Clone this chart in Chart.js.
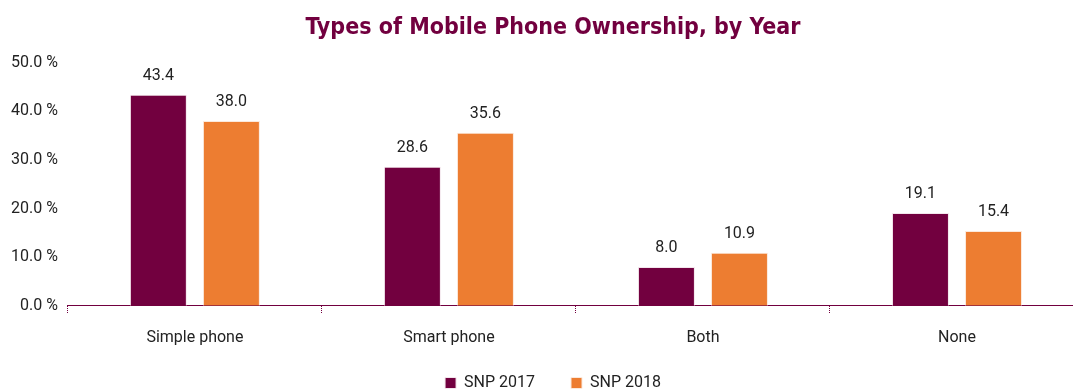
<!DOCTYPE html>
<html>
<head>
<meta charset="utf-8">
<script src="https://cdn.jsdelivr.net/npm/chart.js@4"></script>
<style>
  html, body { margin: 0; padding: 0; background: #fff; overflow: hidden; }
  #wrap { width: 1110px; height: 390px; position: relative; }
</style>
</head>
<body>
<div id="wrap"><canvas id="chart"></canvas></div>
<script>
// DATA
const categories = ['Simple phone', 'Smart phone', 'Both', 'None'];
const snp2017 = [43.4, 28.6, 8.0, 19.1];
const snp2018 = [38.0, 35.6, 10.9, 15.4];
const seriesNames = ['SNP 2017', 'SNP 2018'];
const yTicks = [0, 10, 20, 30, 40, 50];

const PURPLE = '#72003F';
const ORANGE = '#ED7D31';
const FONT = 'Roboto, "Liberation Sans", sans-serif';

// valores encima de las barras
const barLabels = {
  id: 'barLabels',
  afterDatasetsDraw(chart) {
    const ctx = chart.ctx;
    ctx.save();
    ctx.font = '16px ' + FONT;
    ctx.fillStyle = '#222';
    ctx.textAlign = 'center';
    ctx.textBaseline = 'alphabetic';
    chart.data.datasets.forEach((ds, i) => {
      chart.getDatasetMeta(i).data.forEach((bar, j) => {
        ctx.fillText(ds.data[j].toFixed(1), bar.x, bar.y - 15);
      });
    });
    ctx.restore();
  }
};

// subir la leyenda un poco (sin achicar el eje x)
const legendShift = {
  id: 'legendShift',
  afterLayout(chart) {
    if (!chart.legend) return;
    chart.legend.top -= 24;
    chart.legend.bottom -= 24;
  }
};

new Chart(document.getElementById('chart').getContext('2d'), {
  type: 'bar',
  data: {
    labels: categories,
    datasets: [
      { label: seriesNames[0], data: snp2017, backgroundColor: PURPLE, borderColor: '#f3e6ec', borderWidth: 1 },
      { label: seriesNames[1], data: snp2018, backgroundColor: ORANGE, borderColor: '#fbe9dc', borderWidth: 1 }
    ]
  },
  options: {
    responsive: true,
    maintainAspectRatio: false,
    animation: false,
    layout: { padding: { left: 1, right: 5, top: 0, bottom: -35 } },
    datasets: { bar: { categoryPercentage: 0.575, barPercentage: 0.78 } },
    plugins: {
      title: {
        display: true,
        text: 'Types of Mobile Phone Ownership, by Year',
        color: PURPLE,
        font: { family: '"DejaVu Sans Condensed", "DejaVu Sans"', size: 23, weight: 'bold' },
        padding: { top: 14, bottom: 21 }
      },
      legend: {
        position: 'bottom',
        labels: {
          boxWidth: 11, boxHeight: 11, padding: 36,
          color: '#222',
          font: { family: FONT, size: 16 }
        }
      },
      tooltip: { enabled: false }
    },
    scales: {
      x: {
        grid: { display: true, drawOnChartArea: false, offset: true, color: PURPLE, tickLength: 8, lineWidth: 1, tickBorderDash: [1, 1] },
        border: { display: true, color: PURPLE, dash: [1, 1] },
        ticks: { color: '#222', padding: 15, font: { family: FONT, size: 16 } }
      },
      y: {
        min: 0, max: 50,
        afterBuildTicks(axis) { axis.ticks = yTicks.map(v => ({ value: v })); },
        grid: { display: false, drawTicks: false },
        border: { display: false },
        ticks: {
          color: '#222', padding: 10,
          font: { family: FONT, size: 16 },
          callback: v => v.toFixed(1) + ' %'
        }
      },
      // eje vacio a la derecha, solo para centrar titulo y leyenda
      y2: {
        position: 'right',
        grid: { display: false },
        border: { display: false },
        ticks: { display: false },
        afterFit(axis) { axis.width = 21; }
      }
    }
  },
  plugins: [barLabels, legendShift]
});
</script>
</body>
</html>
